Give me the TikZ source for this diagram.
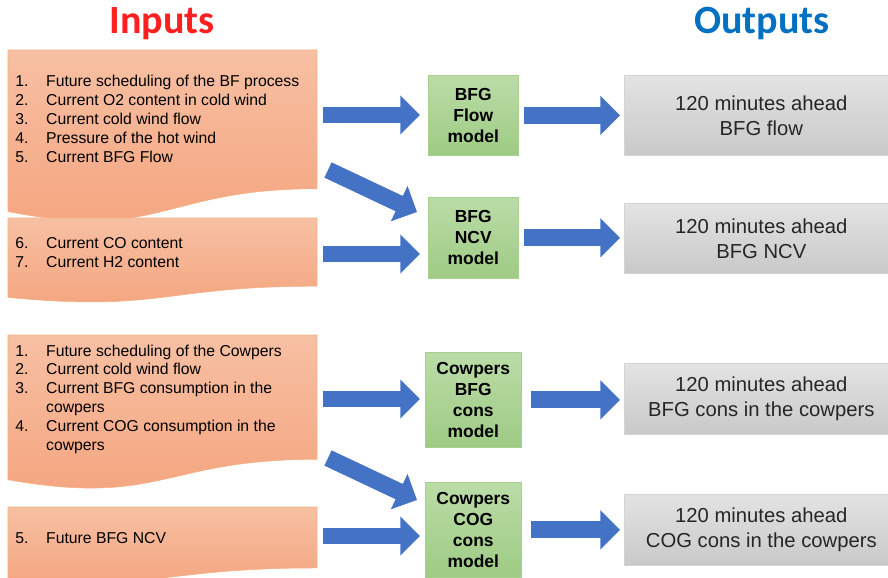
\documentclass[tikz,border=0pt]{standalone}
\usepackage{fontspec}
\setmainfont{Liberation Sans}
\newfontfamily\titlefont{Carlito}
\usetikzlibrary{arrows.meta,positioning}
\definecolor{o1}{HTML}{F7C0A3}
\definecolor{o2}{HTML}{F4A37D}
\definecolor{o3}{HTML}{F4B183}
\definecolor{g1}{HTML}{BBDCA7}
\definecolor{g2}{HTML}{9ECB84}
\definecolor{g3}{HTML}{A9D18E}
\definecolor{s1}{HTML}{E3E3E3}
\definecolor{s2}{HTML}{C9C9C9}
\definecolor{s3}{HTML}{D4D4D4}
\definecolor{b1}{HTML}{4472C4}
\definecolor{r1}{HTML}{FF1F1F}
\definecolor{t1}{HTML}{0070C0}

% wavy input box: x, y, width, height (in pixels)
\newcommand{\docbox}[4]{%
	\draw [top color = o1, bottom color = o2, draw = o3] (#1,#2) -- ({#1+#3},#2) -- ({#1+#3},{#2+0.802*#4})
		.. controls ({#1+0.5*#3},{#2+0.802*#4}) and ({#1+0.5*#3},{#2+1.1075*#4}) .. (#1,{#2+0.934*#4}) -- cycle;}

\begin{document}
\begin{tikzpicture}[x=0.025cm,y=-0.025cm,
	title/.style={font=\titlefont\bfseries\fontsize{28.5}{30}\selectfont, anchor=base},
	list/.style={font=\fontsize{11.2}{13.5}\selectfont, anchor=base west, inner sep=0pt},
	model/.style={draw=g3, top color=g1, bottom color=g2, align=center, inner sep=0pt, anchor=north west,
		font=\bfseries\fontsize{12.4}{15}\selectfont},
	result/.style={draw=s3, top color=s1, bottom color=s2, align=center, inner sep=0pt, anchor=north west,
		font=\fontsize{14.4}{17.8}\selectfont, text=black!85, minimum width=6.85cm},
	link/.style={b1, line width=12pt, -{Triangle[length=14pt,width=27pt]}}]
	\useasboundingbox (0,0) rectangle (888,578);
	% titles
	\node [title, text = r1] (inputs) at (162,34) {Inputs};
	\node [title, text = t1] (outputs) at (762,34) {Outputs};
	% inputs
	\begin{scope}
	\docbox{8}{50}{309}{173}
	\docbox{8}{218}{309}{85}
	\docbox{8}{335}{309}{155}
	\docbox{8}{507}{309}{76}
	\node [list] (in1) at (15,86.5) {\begin{tabular}[t]{@{}p{22pt}@{}l@{}}
		1. & Future scheduling of the BF process\\
		2. & Current O2 content in cold wind\\
		3. & Current cold wind flow\\
		4. & Pressure of the hot wind\\
		5. & Current BFG Flow\end{tabular}};
	\node [list] (in2) at (15,248.3) {\begin{tabular}[t]{@{}p{22pt}@{}l@{}}
		6. & Current CO content\\
		7. & Current H2 content\end{tabular}};
	\node [list] (in3) at (15,356) {\begin{tabular}[t]{@{}p{22pt}@{}l@{}}
		1. & Future scheduling of the Cowpers\\
		2. & Current cold wind flow\\
		3. & Current BFG consumption in the\\
		   & cowpers\\
		4. & Current COG consumption in the\\
		   & cowpers\end{tabular}};
	\node [list] (in4) at (15,543.3) {\begin{tabular}[t]{@{}p{22pt}@{}l@{}}
		5. & Future BFG NCV\end{tabular}};
	\end{scope}
	% models
	\node [model, minimum width=2.25cm, minimum height=2cm] (flow) at (428,75) {BFG\\Flow\\model};
	\node [model, minimum width=2.25cm, minimum height=2.025cm] (ncv) at (428,197) {BFG\\NCV\\model};
	\node [model, minimum width=2.4cm, minimum height=2.375cm] (cbfg) at (425,352) {Cowpers\\BFG\\cons\\model};
	\node [model, minimum width=2.4cm, minimum height=2.375cm] (ccog) at (425,482) {Cowpers\\COG\\cons\\model};
	% outputs
	\node [result, minimum height=2cm] (out1) at (624,75) {120 minutes ahead\\BFG flow};
	\node [result, minimum height=1.75cm] (out2) at (624,203) {120 minutes ahead\\BFG NCV};
	\node [result, minimum height=1.775cm] (out3) at (624,363) {120 minutes ahead\\BFG cons in the cowpers};
	\node [result, minimum height=1.775cm] (out4) at (624,494) {120 minutes ahead\\COG cons in the cowpers};
	% arrows
	\coordinate (a1) at (323,115);
	\coordinate (a2) at (328,170);
	\coordinate (a3) at (323,254);
	\coordinate (a4) at (323,399);
	\coordinate (a5) at (328,458);
	\coordinate (a6) at (323,536);
	\draw [link, shorten >=5.7pt] (a1) -- (a1 -| flow.west);
	\draw [link] (a2) -- ([shift={(-11,15)}]ncv.north west);
	\draw [link, shorten >=5.7pt] (a3) -- (a3 -| ncv.west);
	\draw [link, shorten >=3.6pt] (a4) -- (a4 -| cbfg.west);
	\draw [link] (a5) -- ([shift={(-8,18)}]ccog.north west);
	\draw [link, shorten >=3.6pt] (a6) -- (a6 -| ccog.west);
	\draw [link, shorten <=3.6pt, shorten >=2.8pt] (flow.east) -- (flow.east -| out1.west);
	\draw [link, shorten <=3.6pt, shorten >=2.8pt] (ncv.east) -- (ncv.east -| out2.west);
	\draw [link, shorten <=6.4pt, shorten >=2.8pt] (cbfg.east) -- (cbfg.east -| out3.west);
	\draw [link, shorten <=6.4pt, shorten >=2.8pt] (ccog.east) -- (ccog.east -| out4.west);
\end{tikzpicture}
\end{document}
